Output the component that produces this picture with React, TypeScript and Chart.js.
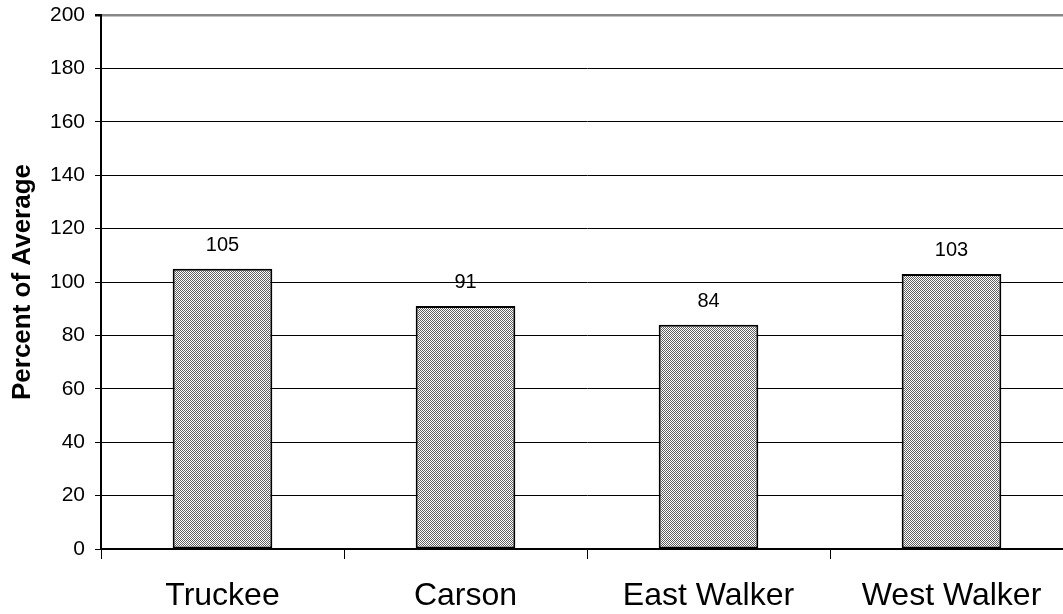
import React, { useEffect, useRef } from "react";
import { Chart, registerables } from "chart.js";

Chart.register(...registerables);

const categories = ["Truckee", "Carson", "East Walker", "West Walker"];
const percentValues = [105, 91, 84, 103];
const yTicks = [0, 20, 40, 60, 80, 100, 120, 140, 160, 180, 200];

const FONT = "'Liberation Sans', Arial, sans-serif";

export default function App() {
  const ref = useRef<HTMLCanvasElement | null>(null);

  useEffect(() => {
    const canvas = ref.current;
    if (!canvas) return;
    const pc = document.createElement("canvas");
    pc.width = 2;
    pc.height = 2;
    const pctx = pc.getContext("2d")!;
    pctx.fillStyle = "#ffffff";
    pctx.fillRect(0, 0, 2, 2);
    pctx.fillStyle = "#606060";
    pctx.fillRect(0, 0, 1, 1);
    pctx.fillRect(1, 1, 1, 1);
    const ctx = canvas.getContext("2d")!;
    const pattern = ctx.createPattern(pc, "repeat")!;

    const labelPlugin = {
      id: "barLabels",
      afterDatasetsDraw(chart: any) {
        const c = chart.ctx;
        const meta = chart.getDatasetMeta(0);
        c.save();
        c.font = `20px ${FONT}`;
        c.fillStyle = "#000";
        c.textAlign = "center";
        c.textBaseline = "alphabetic";
        meta.data.forEach((el: any, i: number) => {
          c.fillText(String(percentValues[i]), el.x, el.y - 18);
        });
        c.restore();
      },
    };

    const chart = new Chart(canvas, {
      type: "bar",
      data: {
        labels: categories,
        datasets: [
          {
            data: percentValues,
            backgroundColor: pattern as any,
            borderColor: "#000",
            borderWidth: 2,
            borderSkipped: false,
            barPercentage: 0.41,
            categoryPercentage: 1,
          },
        ],
      },
      options: {
        responsive: false,
        animation: false,
        layout: { padding: { top: 15, right: 0, left: 0, bottom: 0 } },
        plugins: {
          legend: { display: false },
          tooltip: { enabled: false },
        },
        scales: {
          x: {
            grid: {
              offset: true,
              drawOnChartArea: false,
              drawTicks: true,
              tickLength: 10,
              color: "#000",
            },
            border: { color: "#000", width: 1.5 },
            ticks: {
              color: "#000",
              font: { family: FONT, size: 32 },
              padding: 18,
            },
            afterFit(scale: any) {
              scale.height = 65;
              scale.paddingLeft = 0;
              scale.paddingRight = 0;
            },
          },
          y: {
            min: 0,
            max: 200,
            afterBuildTicks(scale: any) {
              scale.ticks = yTicks.map((v) => ({ value: v }));
            },
            grid: {
              color: (c: any) => (c.tick && c.tick.value === 200 ? "#888888" : "#000000"),
              lineWidth: (c: any) => (c.tick && c.tick.value === 200 ? 2.5 : 1),
              tickLength: 6,
              tickColor: "#000",
            },
            border: { color: "#000", width: 2 },
            ticks: {
              color: "#000",
              font: { family: FONT, size: 21 },
              padding: 10,
            },
            title: {
              display: true,
              text: "Percent of Average",
              color: "#000",
              font: { family: FONT, size: 26, weight: "bold" },
              padding: { top: 7, bottom: 0 },
            },
            afterFit(scale: any) {
              scale.width = 101;
              scale.paddingTop = 0;
              scale.paddingBottom = 0;
            },
          },
        },
      },
      plugins: [labelPlugin],
    });
    return () => chart.destroy();
  }, []);

  return (
    <div
      style={{
        position: "fixed",
        left: 0,
        top: 0,
        width: 1063,
        height: 614,
        overflow: "hidden",
        background: "#fff",
      }}
    >
      <canvas ref={ref} width={1073} height={614} style={{ width: 1073, height: 614, display: "block" }} />
    </div>
  );
}
